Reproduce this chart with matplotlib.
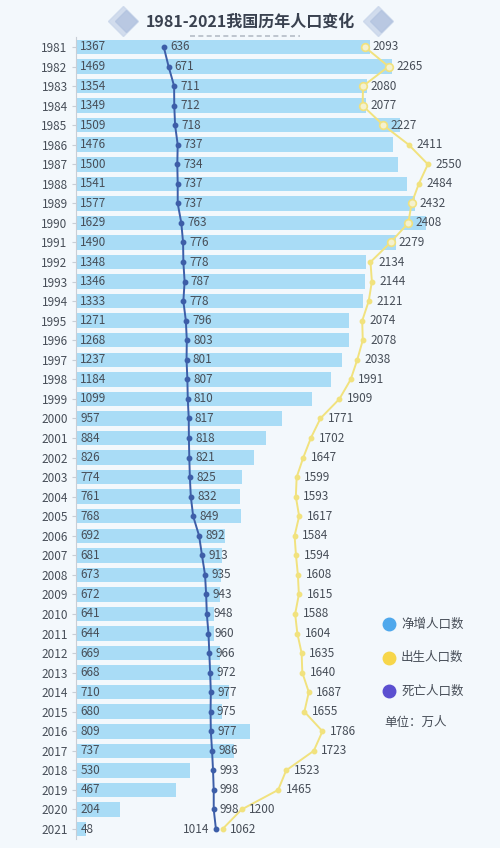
import numpy as np
import matplotlib.pyplot as plt

plt.rcParams['font.family'] = ['Noto Sans CJK SC', 'DejaVu Sans']

years = list(range(1981, 2022))
net = [1367, 1469, 1354, 1349, 1509, 1476, 1500, 1541, 1577, 1629, 1490, 1348, 1346, 1333,
       1271, 1268, 1237, 1184, 1099, 957, 884, 826, 774, 761, 768, 692, 681, 673, 672, 641,
       644, 669, 668, 710, 680, 809, 737, 530, 467, 204, 48]
births = [2093, 2265, 2080, 2077, 2227, 2411, 2550, 2484, 2432, 2408, 2279, 2134, 2144, 2121,
          2074, 2078, 2038, 1991, 1909, 1771, 1702, 1647, 1599, 1593, 1617, 1584, 1594, 1608,
          1615, 1588, 1604, 1635, 1640, 1687, 1655, 1786, 1723, 1523, 1465, 1200, 1062]
deaths = [636, 671, 711, 712, 718, 737, 734, 737, 737, 763, 776, 778, 787, 778, 796, 803, 801,
          807, 810, 817, 818, 821, 825, 832, 849, 892, 913, 935, 943, 948, 960, 966, 972, 977,
          975, 977, 986, 993, 998, 998, 1014]
legend_labels = ['净增人口数', '出生人口数', '死亡人口数']

bg = '#f3f8fc'
bar_c = '#a9dcf6'
birth_c = '#f1e27e'
death_c = '#3d5ea8'
txt_c = '#474e58'

W, H = 500, 848
fig = plt.figure(figsize=(5, 8.48), dpi=100, facecolor=bg)

top, bot = 37.2, 838.8
ax = fig.add_axes([76 / W, 1 - bot / H, 414 / W, (bot - top) / H])
ax.set_facecolor('none')
y = np.arange(len(years))
ax.barh(y, net, height=0.74, color=bar_c, zorder=1)
ax.set_xlim(0, 1926)
ax.set_ylim(len(years) - 0.5, -0.5)
ax.set_yticks(y)
ax.set_yticklabels([str(v) for v in years], fontsize=8.5, color=txt_c)
ax.tick_params(axis='y', length=3, color='#c8ced6', pad=3)
ax.set_xticks([])
for s in ['top', 'right', 'bottom']:
    ax.spines[s].set_visible(False)
ax.spines['left'].set_color('#c8ced6')
for i, v in enumerate(net):
    ax.text(20, i, str(v), va='center', ha='left', fontsize=8.5, color=txt_c, zorder=5)

ax2 = ax.twiny()
ax2.set_xlim(0, 3000)
ax2.set_xticks([])
for s in ax2.spines.values():
    s.set_visible(False)
ax2.plot(deaths, y, color=death_c, lw=1.4, marker='o', ms=3.2, zorder=4)
ax2.plot(births, y, color=birth_c, lw=1.4, marker='o', ms=3.2, zorder=3)
hollow = [0, 1, 2, 3, 4, 8, 9, 10]
ax2.plot([births[i] for i in hollow], hollow, ls='none', marker='o', ms=5.5,
         mfc='#f4f1cf', mec=birth_c, mew=1.2, zorder=3)
for i in range(len(years)):
    if i == len(years) - 1:
        ax2.text(deaths[i] - 45, i, str(deaths[i]), va='center', ha='right', fontsize=8.5, color=txt_c, zorder=6)
    else:
        ax2.text(deaths[i] + 45, i, str(deaths[i]), va='center', ha='left', fontsize=8.5, color=txt_c, zorder=6)
    ax2.text(births[i] + 55, i, str(births[i]), va='center', ha='left', fontsize=8.5, color=txt_c, zorder=6)

# title, decorations and legend
deco = fig.add_axes([0, 0, 1, 1], zorder=10)
deco.set_xlim(0, W)
deco.set_ylim(H, 0)
deco.axis('off')
deco.patch.set_alpha(0)
deco.text(250, 22, '1981-2021我国历年人口变化', ha='center', va='center',
          fontsize=11.5, fontweight='bold', color='#3a4250')
for xd in (123, 378):
    deco.plot(xd, 21, marker='D', ms=15, color='#c9d6ea', alpha=0.8)
    deco.plot(xd + 3, 21, marker='D', ms=11, color='#b3c4e0', alpha=0.8)
deco.plot([190, 300], [36, 36], ls=(0, (3, 2)), color='#b5bcc6', lw=1.2)

leg_colors = ['#4fa8ec', '#f7d64a', '#5b4fd0']
for k, (lab, c) in enumerate(zip(legend_labels, leg_colors)):
    yy = 624 + k * 33.5
    deco.plot(389, yy, marker='o', ms=9, color=c)
    deco.text(401, yy, lab, va='center', ha='left', fontsize=9, color=txt_c)
deco.text(384, 722, '单位：万人', va='center', ha='left', fontsize=9, color=txt_c)

fig.savefig('out.png', dpi=100, facecolor=bg)
